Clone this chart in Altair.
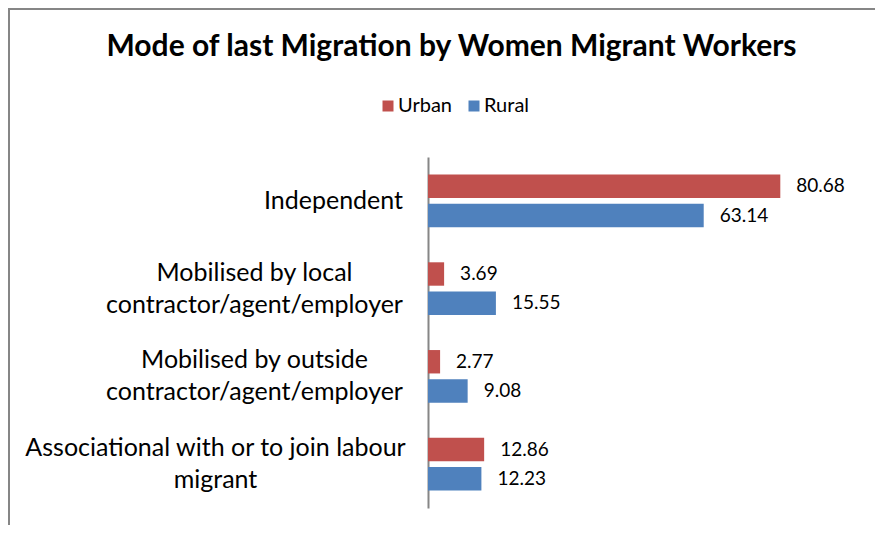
import altair as alt
import pandas as pd

categories = [
    "Independent",
    "Mobilised by local\ncontractor/agent/employer",
    "Mobilised by outside\ncontractor/agent/employer",
    "Associational with or to join labour\nmigrant",
]
series = ["Urban", "Rural"]
urban = [80.68, 3.69, 2.77, 12.86]
rural = [63.14, 15.55, 9.08, 12.23]
colors = ["#C0504D", "#4F81BD"]

rows = []
for c, u, r in zip(categories, urban, rural):
    rows.append({"Mode": c, "Area": "Urban", "Value": u})
    rows.append({"Mode": c, "Area": "Rural", "Value": r})
df = pd.DataFrame(rows)

FONT = "Lato"

# label blocks are right-aligned at the axis, each line centred within its block
label_padding = {
    "condition": [
        {"test": f"datum.value == {categories[0]!r}", "value": 95},
        {"test": f"datum.value == {categories[1]!r}".replace("\n", "\\n"), "value": 174},
        {"test": f"datum.value == {categories[2]!r}".replace("\n", "\\n"), "value": 174},
        {"test": f"datum.value == {categories[3]!r}".replace("\n", "\\n"), "value": 213},
    ],
    "value": 25,
}
label_offset = {
    "condition": {"test": "indexof(datum.value, '\\n') >= 0", "value": -16},
    "value": 0,
}

base = alt.Chart(df).encode(
    y=alt.Y(
        "Mode:N",
        sort=categories,
        scale=alt.Scale(paddingInner=0.4, paddingOuter=0.2),
        axis=alt.Axis(
            title=None,
            ticks=False,
            domain=True,
            domainColor="#868686",
            domainWidth=2,
            labelExpr="split(datum.label, '\\n')",
            labelFont=FONT,
            labelFontSize=25,
            labelColor="black",
            labelPadding=label_padding,
            labelOffset=label_offset,
            labelLineHeight=32,
            labelLimit=0,
            labelAlign="center",
            labelBaseline="middle",
        ),
    ),
    yOffset=alt.YOffset("Area:N", sort=series, scale=alt.Scale(paddingInner=0.2, paddingOuter=0)),
)

bars = base.mark_bar().encode(
    x=alt.X("Value:Q", scale=alt.Scale(domain=[0, 90]), axis=None),
    color=alt.Color(
        "Area:N",
        sort=series,
        scale=alt.Scale(domain=series, range=colors),
        legend=alt.Legend(
            title=None,
            orient="none",
            legendX=-50,
            legendY=-61,
            direction="horizontal",
            symbolType="square",
            symbolSize=121,
            symbolStrokeWidth=0,
            labelFont=FONT,
            labelFontSize=20,
            labelColor="black",
            columnPadding=12,
            labelOffset=0,
            padding=0,
        ),
    ),
)

labels = base.mark_text(
    align="left", baseline="middle", dx=16, font=FONT, fontSize=19, color="black"
).encode(
    x=alt.X("Value:Q"),
    text=alt.Text("Value:Q", format=".2f"),
)

frame_df = pd.DataFrame({"a": [0]})
left_border = alt.Chart(frame_df).mark_rule(color="#868686", strokeWidth=2).encode(
    x=alt.value(-419), y=alt.value(-149), y2=alt.value(380)
)
top_border = alt.Chart(frame_df).mark_rule(color="#868686", strokeWidth=2).encode(
    x=alt.value(-420), x2=alt.value(460), y=alt.value(-148)
)

chart = alt.layer(bars, labels, left_border, top_border).properties(
    width=393,
    height=351,
    autosize=alt.AutoSizeParams(type="none"),
    padding={"left": 420, "top": 149, "right": 54, "bottom": 17},
    title=alt.TitleParams(
        "Mode of last Migration by Women Migrant Workers",
        font=FONT,
        fontSize=30,
        fontWeight="bold",
        color="black",
        anchor="middle",
        dx=-173,
        dy=59,
    ),
).configure_view(stroke=None)

chart.save("out.html", embed_options={"renderer": "svg", "actions": False})
